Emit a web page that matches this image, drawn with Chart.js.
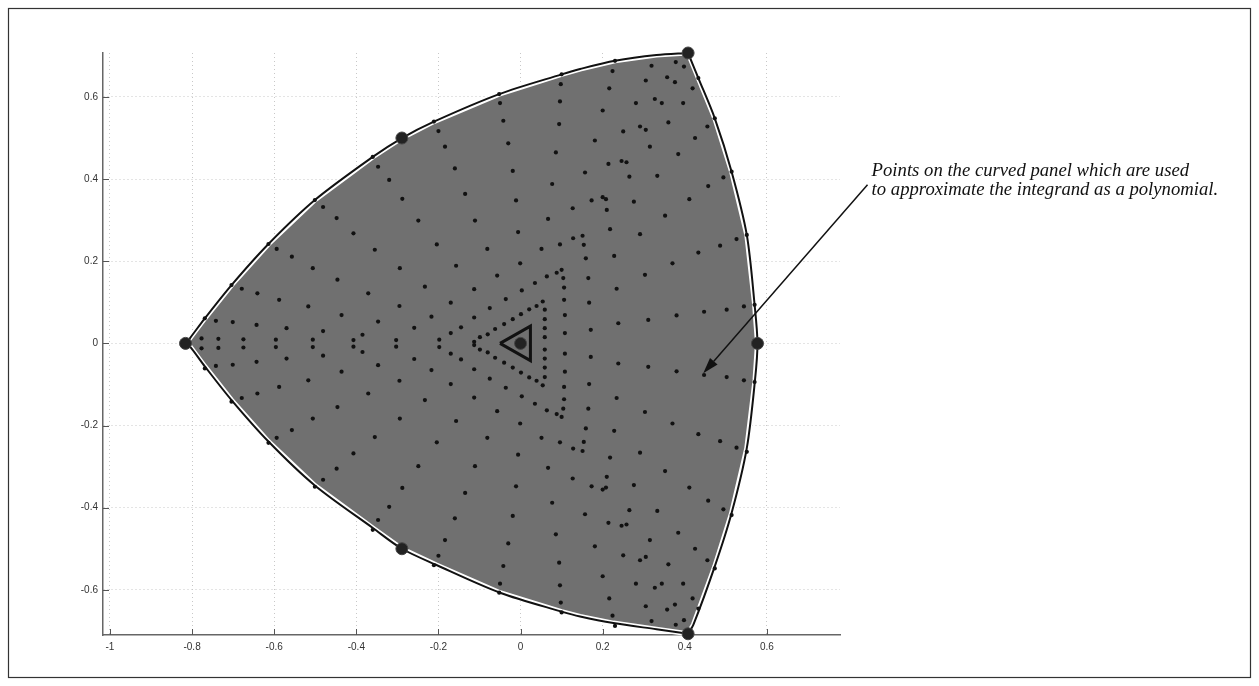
<!DOCTYPE html>
<html>
<head>
<meta charset="utf-8">
<title>Curved panel quadrature points</title>
<script src="https://cdn.jsdelivr.net/npm/chart.js@4.4.1/dist/chart.umd.min.js"></script>
<style>
  html, body { margin: 0; padding: 0; background: #fff; }
  #wrap { position: relative; width: 1259px; height: 686px; }
</style>
</head>
<body>
<div id="wrap"><canvas id="panelChart" width="1259" height="686"></canvas></div>
<script>
// axis ticks
const xTicks = [-1, -0.8, -0.6, -0.4, -0.2, 0, 0.2, 0.4, 0.6];
const yTicks = [-0.6, -0.4, -0.2, 0, 0.2, 0.4, 0.6];

// panel outline, left corner -> top corner -> bottom corner -> back
const edgeX = [-0.816, -0.805, -0.769, -0.704, -0.614, -0.501, -0.360, -0.289, -0.211, -0.052, 0.100, 0.145, 0.230, 0.331, 0.408,
  0.433, 0.473, 0.514, 0.551, 0.570, 0.577, 0.571, 0.551, 0.514, 0.473, 0.421, 0.408,
  0.331, 0.226, 0.145, 0.100, -0.050, -0.206, -0.289, -0.359, -0.501, -0.614, -0.704, -0.769, -0.805, -0.816];
const edgeY = [0, 0.013, 0.061, 0.142, 0.242, 0.349, 0.454, 0.500, 0.540, 0.607, 0.655, 0.668, 0.688, 0.702, 0.707,
  0.646, 0.548, 0.418, 0.264, 0.094, 0, -0.089, -0.255, -0.413, -0.543, -0.685, -0.707,
  -0.696, -0.681, -0.665, -0.653, -0.607, -0.539, -0.500, -0.450, -0.346, -0.239, -0.138, -0.056, -0.008, 0];
const corners = [0, 14, 26, 40];

// corner nodes, mid-edge nodes and the centre
const nodeX = [-0.816, -0.289, 0.408, 0.577, 0.408, -0.289, 0];
const nodeY = [0, 0.500, 0.707, 0, -0.707, -0.500, 0];

// small triangle round the centre
const innerX = [-0.050, 0.024, 0.024, -0.050];
const innerY = [0, 0.042, -0.042, 0];

// quadrature points, upper half
const scatterUpper = [
  [-0.481, 0.332], [-0.448, 0.305], [-0.407, 0.268], [-0.347, 0.430],
  [-0.594, 0.230], [-0.557, 0.211], [-0.506, 0.183], [-0.446, 0.155],
  [-0.679, 0.133], [-0.641, 0.122], [-0.588, 0.106], [-0.517, 0.090], [-0.436, 0.069],
  [-0.742, 0.055], [-0.701, 0.052], [-0.643, 0.045], [-0.570, 0.037], [-0.481, 0.030],
  [-0.777, 0.012], [-0.736, 0.011], [-0.675, 0.010], [-0.596, 0.009], [-0.506, 0.009], [-0.407, 0.008],
  [-0.501, 0.349], [-0.614, 0.242], [-0.704, 0.142], [-0.769, 0.061], [-0.360, 0.454],
  [-0.211, 0.540], [-0.052, 0.607], [0.100, 0.655],
  [-0.200, 0.517], [-0.184, 0.479], [-0.160, 0.426], [-0.135, 0.364], [-0.111, 0.299],
  [-0.050, 0.585], [-0.042, 0.542], [-0.030, 0.487], [-0.019, 0.420], [-0.011, 0.348], [-0.006, 0.271],
  [0.098, 0.631], [0.096, 0.589], [0.094, 0.534], [0.086, 0.465], [0.077, 0.388], [0.067, 0.303],
  [0.127, 0.329], [0.128, 0.256], [-0.320, 0.398], [-0.288, 0.352], [-0.249, 0.299],
  [0.230, 0.688], [0.433, 0.646], [0.473, 0.548], [0.514, 0.418], [0.551, 0.264], [0.570, 0.094],
  [0.319, 0.676], [0.378, 0.685], [0.398, 0.674], [0.224, 0.663], [0.357, 0.648], [0.376, 0.636],
  [0.305, 0.640], [0.216, 0.621], [0.419, 0.621], [0.327, 0.595], [0.344, 0.585], [0.281, 0.585],
  [0.396, 0.585], [0.200, 0.567], [0.360, 0.538], [0.291, 0.528], [0.305, 0.520], [0.455, 0.528],
  [0.250, 0.516], [0.181, 0.494], [0.425, 0.500], [0.315, 0.479], [0.384, 0.461], [0.246, 0.444],
  [0.258, 0.441], [0.214, 0.437], [0.157, 0.416], [0.265, 0.406], [0.333, 0.408], [0.494, 0.404],
  [0.457, 0.383], [0.200, 0.356], [0.208, 0.351], [0.173, 0.348], [0.276, 0.345], [0.411, 0.351],
  [0.210, 0.325], [0.352, 0.311], [0.218, 0.278], [0.291, 0.266], [0.151, 0.262], [0.526, 0.254],
  [0.486, 0.238], [0.433, 0.221], [0.370, 0.195], [0.228, 0.213], [0.303, 0.167], [0.234, 0.133],
  [0.154, 0.240], [0.159, 0.207], [0.165, 0.159], [0.167, 0.099], [0.171, 0.033],
  [0.238, 0.049], [0.311, 0.057], [0.380, 0.068], [0.447, 0.077], [0.502, 0.082], [0.544, 0.090],
  [-0.204, 0.241], [-0.081, 0.230], [0.051, 0.230], [0.096, 0.241], [-0.294, 0.183], [-0.157, 0.189],
  [-0.001, 0.195], [-0.057, 0.165], [-0.233, 0.138], [-0.113, 0.132], [-0.170, 0.099], [-0.295, 0.091],
  [-0.217, 0.065], [-0.259, 0.038], [-0.355, 0.228], [-0.371, 0.122], [-0.347, 0.053], [-0.385, 0.021],
  [-0.303, 0.008], [-0.198, 0.009]
];

// quadrature points, lower half
const scatterLower = [
  [-0.481, -0.332], [-0.448, -0.305], [-0.407, -0.268], [-0.347, -0.430],
  [-0.594, -0.230], [-0.557, -0.211], [-0.506, -0.183], [-0.446, -0.155],
  [-0.679, -0.133], [-0.641, -0.122], [-0.588, -0.106], [-0.517, -0.090], [-0.436, -0.069],
  [-0.742, -0.055], [-0.701, -0.052], [-0.643, -0.045], [-0.570, -0.037], [-0.481, -0.030],
  [-0.777, -0.012], [-0.736, -0.011], [-0.675, -0.010], [-0.596, -0.009], [-0.506, -0.009], [-0.407, -0.008],
  [-0.501, -0.349], [-0.614, -0.242], [-0.704, -0.142], [-0.769, -0.061], [-0.360, -0.454],
  [-0.211, -0.540], [-0.052, -0.607], [0.100, -0.655],
  [-0.200, -0.517], [-0.184, -0.479], [-0.160, -0.426], [-0.135, -0.364], [-0.111, -0.299],
  [-0.050, -0.585], [-0.042, -0.542], [-0.030, -0.487], [-0.019, -0.420], [-0.011, -0.348], [-0.006, -0.271],
  [0.098, -0.631], [0.096, -0.589], [0.094, -0.534], [0.086, -0.465], [0.077, -0.388], [0.067, -0.303],
  [0.127, -0.329], [0.128, -0.256], [-0.320, -0.398], [-0.288, -0.352], [-0.249, -0.299],
  [0.230, -0.688], [0.433, -0.646], [0.473, -0.548], [0.514, -0.418], [0.551, -0.264], [0.570, -0.094],
  [0.319, -0.676], [0.378, -0.685], [0.398, -0.674], [0.224, -0.663], [0.357, -0.648], [0.376, -0.636],
  [0.305, -0.640], [0.216, -0.621], [0.419, -0.621], [0.327, -0.595], [0.344, -0.585], [0.281, -0.585],
  [0.396, -0.585], [0.200, -0.567], [0.360, -0.538], [0.291, -0.528], [0.305, -0.520], [0.455, -0.528],
  [0.250, -0.516], [0.181, -0.494], [0.425, -0.500], [0.315, -0.479], [0.384, -0.461], [0.246, -0.444],
  [0.258, -0.441], [0.214, -0.437], [0.157, -0.416], [0.265, -0.406], [0.333, -0.408], [0.494, -0.404],
  [0.457, -0.383], [0.200, -0.356], [0.208, -0.351], [0.173, -0.348], [0.276, -0.345], [0.411, -0.351],
  [0.210, -0.325], [0.352, -0.311], [0.218, -0.278], [0.291, -0.266], [0.151, -0.262], [0.526, -0.254],
  [0.486, -0.238], [0.433, -0.221], [0.370, -0.195], [0.228, -0.213], [0.303, -0.167], [0.234, -0.133],
  [0.154, -0.240], [0.159, -0.207], [0.165, -0.159], [0.167, -0.099], [0.171, -0.033],
  [0.238, -0.049], [0.311, -0.057], [0.380, -0.068], [0.447, -0.077], [0.502, -0.082], [0.544, -0.090],
  [-0.204, -0.241], [-0.081, -0.230], [0.051, -0.230], [0.096, -0.241], [-0.294, -0.183], [-0.157, -0.189],
  [-0.001, -0.195], [-0.057, -0.165], [-0.233, -0.138], [-0.113, -0.132], [-0.170, -0.099], [-0.295, -0.091],
  [-0.217, -0.065], [-0.259, -0.038], [-0.355, -0.228], [-0.371, -0.122], [-0.347, -0.053], [-0.385, -0.021],
  [-0.303, -0.008], [-0.198, -0.009]
];

// the two dotted triangles round the centre
const ringUpper = [
  [-0.113, 0.004], [-0.099, 0.015], [-0.080, 0.022], [-0.062, 0.035], [-0.040, 0.047], [-0.019, 0.059],
  [0.001, 0.071], [0.021, 0.083], [0.039, 0.091], [0.054, 0.102],
  [0.059, 0.082], [0.059, 0.059], [0.059, 0.037], [0.059, 0.015],
  [-0.170, 0.025], [-0.145, 0.039], [-0.113, 0.063], [-0.075, 0.086], [-0.036, 0.108], [0.003, 0.129],
  [0.035, 0.147], [0.064, 0.163], [0.088, 0.172], [0.100, 0.179],
  [0.104, 0.159], [0.106, 0.136], [0.106, 0.106], [0.108, 0.069], [0.108, 0.025]
];
const ringLower = [
  [-0.113, -0.004], [-0.099, -0.015], [-0.080, -0.022], [-0.062, -0.035], [-0.040, -0.047], [-0.019, -0.059],
  [0.001, -0.071], [0.021, -0.083], [0.039, -0.091], [0.054, -0.102],
  [0.059, -0.082], [0.059, -0.059], [0.059, -0.037], [0.059, -0.015],
  [-0.170, -0.025], [-0.145, -0.039], [-0.113, -0.063], [-0.075, -0.086], [-0.036, -0.108], [0.003, -0.129],
  [0.035, -0.147], [0.064, -0.163], [0.088, -0.172], [0.100, -0.179],
  [0.104, -0.159], [0.106, -0.136], [0.106, -0.106], [0.108, -0.069], [0.108, -0.025]
];

const noteLines = [
  "Points on the curved panel which are used",
  "to approximate the integrand as a polynomial."
];
const note = { x: 0.855, y: 0.408, lineGap: 0.046, arrowFromX: 0.845, arrowFromY: 0.386, arrowToX: 0.445, arrowToY: -0.073 };

const toPoints = (xs, ys) => xs.map((x, i) => ({ x, y: ys[i] }));
const toXY = (pairs) => pairs.map(([x, y]) => ({ x, y }));

const outline = toPoints(edgeX, edgeY);
const edgeSet = (from, to) => ({
  data: outline.slice(corners[from], corners[to] + 1),
  showLine: true,
  borderColor: "#111",
  borderWidth: 2,
  tension: 0.3,
  pointRadius: 0,
  fill: false,
  order: 3,
  clip: false
});

// frame round the figure, inward tick marks, note and arrow
const decor = {
  id: "decor",
  beforeDatasetsDraw(chart) {
    const { ctx, chartArea: a, scales: { x, y } } = chart;
    ctx.save();
    ctx.strokeStyle = "#555";
    ctx.lineWidth = 1;
    ctx.beginPath();
    xTicks.forEach((v) => {
      const px = Math.round(x.getPixelForValue(v)) + 0.5;
      ctx.moveTo(px, a.bottom);
      ctx.lineTo(px, a.bottom - 6);
    });
    yTicks.forEach((v) => {
      const py = Math.round(y.getPixelForValue(v)) + 0.5;
      ctx.moveTo(a.left, py);
      ctx.lineTo(a.left + 6, py);
    });
    ctx.stroke();
    ctx.restore();
  },
  afterDraw(chart) {
    const { ctx, scales: { x, y } } = chart;
    ctx.save();
    ctx.strokeStyle = "#333";
    ctx.lineWidth = 1.2;
    ctx.strokeRect(8.5, 8.5, chart.width - 17, chart.height - 17);

    ctx.fillStyle = "#111";
    ctx.font = "italic 18.7px 'Liberation Serif', 'DejaVu Serif', serif";
    ctx.textBaseline = "alphabetic";
    noteLines.forEach((t, i) => {
      ctx.fillText(t, x.getPixelForValue(note.x), y.getPixelForValue(note.y - i * note.lineGap));
    });

    const x0 = x.getPixelForValue(note.arrowFromX), y0 = y.getPixelForValue(note.arrowFromY);
    const x1 = x.getPixelForValue(note.arrowToX), y1 = y.getPixelForValue(note.arrowToY);
    const ang = Math.atan2(y1 - y0, x1 - x0);
    const head = 16, half = 5;
    const bx = x1 - head * Math.cos(ang), by = y1 - head * Math.sin(ang);
    ctx.strokeStyle = "#111";
    ctx.lineWidth = 1.5;
    ctx.beginPath();
    ctx.moveTo(x0, y0);
    ctx.lineTo(bx, by);
    ctx.stroke();
    ctx.beginPath();
    ctx.moveTo(x1, y1);
    ctx.lineTo(bx - half * Math.sin(ang), by + half * Math.cos(ang));
    ctx.lineTo(bx + half * Math.sin(ang), by - half * Math.cos(ang));
    ctx.closePath();
    ctx.fill();
    ctx.restore();
  }
};

const tickFont = { family: "'Liberation Sans', Arial, sans-serif", size: 10 };

new Chart(document.getElementById("panelChart"), {
  type: "scatter",
  data: {
    datasets: [
      {
        label: "nodes",
        data: toPoints(nodeX, nodeY),
        pointRadius: 6,
        pointBackgroundColor: "#222",
        pointBorderColor: "#444",
        pointBorderWidth: 1,
        order: 0,
        clip: false
      },
      {
        label: "quadrature points",
        data: toXY(scatterUpper.concat(scatterLower, ringUpper, ringLower)),
        pointRadius: 2.1,
        pointBackgroundColor: "#111",
        pointBorderWidth: 0,
        order: 1,
        clip: false
      },
      {
        label: "inner triangle",
        data: toPoints(innerX, innerY),
        showLine: true,
        borderColor: "#111",
        borderWidth: 3,
        pointRadius: 0,
        order: 2
      },
      edgeSet(0, 1),
      edgeSet(1, 2),
      edgeSet(2, 3),
      {
        label: "panel",
        data: outline,
        showLine: true,
        fill: "shape",
        backgroundColor: "#707070",
        borderColor: "#fff",
        borderWidth: 5,
        tension: 0,
        pointRadius: 0,
        order: 4,
        clip: false
      }
    ]
  },
  options: {
    responsive: false,
    animation: false,
    devicePixelRatio: 1,
    layout: { padding: { left: 63, top: 53, right: 419, bottom: 21 } },
    plugins: { legend: { display: false }, tooltip: { enabled: false } },
    scales: {
      x: {
        type: "linear",
        min: -1.017,
        max: 0.778,
        afterBuildTicks: (axis) => { axis.ticks = xTicks.map((v) => ({ value: v })); },
        afterFit: (axis) => { axis.height = 30; },
        ticks: { autoSkip: false, maxRotation: 0, padding: 6, color: "#333", font: tickFont, callback: (v) => String(v) },
        grid: { color: "#c8c8c8", lineWidth: 1, drawTicks: false },
        border: { display: true, color: "#666", width: 1.5, dash: [1, 3] }
      },
      y: {
        type: "linear",
        min: -0.710,
        max: 0.707,
        afterBuildTicks: (axis) => { axis.ticks = yTicks.map((v) => ({ value: v })); },
        afterFit: (axis) => { axis.width = 40; },
        ticks: { autoSkip: false, padding: 5, color: "#333", font: tickFont, callback: (v) => String(v) },
        grid: { color: "#c8c8c8", lineWidth: 1, drawTicks: false },
        border: { display: true, color: "#666", width: 1.5, dash: [1, 3] }
      }
    }
  },
  plugins: [decor]
});
</script>
</body>
</html>
